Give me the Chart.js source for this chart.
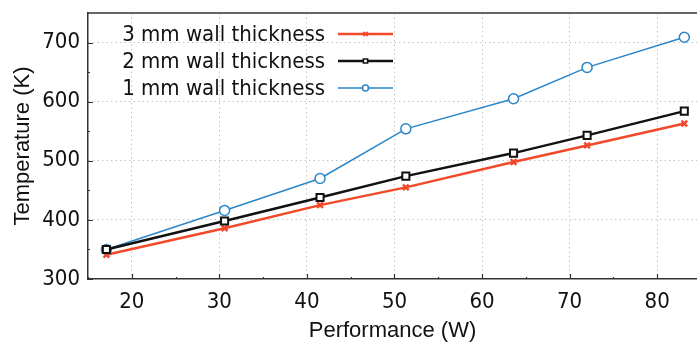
<!DOCTYPE html>
<html>
<head>
<meta charset="utf-8">
<script src="https://cdn.jsdelivr.net/npm/chart.js@4"></script>
<style>
  html, body { margin: 0; padding: 0; background: #fff; }
</style>
</head>
<body>
<canvas id="chart" width="697" height="343"></canvas>
<script>
// data
const power = [17.1, 30.6, 41.5, 51.3, 63.6, 72.0, 83.1];
const temp3mm = [341, 386, 425, 455, 498, 526, 563];
const temp2mm = [350, 398, 438, 474, 513, 543, 584];
const temp1mm = [350, 416, 470, 554, 605, 658, 709];
const seriesNames = ["3 mm wall thickness", "2 mm wall thickness", "1 mm wall thickness"];
const xTicks = [20, 30, 40, 50, 60, 70, 80];
const yTicks = [300, 400, 500, 600, 700];

const RED = "#f2492b";
const BLUE = "#2a86c8";
const BLACK = "#111111";
const TICK_FONT = "'DejaVu Sans Condensed', 'DejaVu Sans', sans-serif";

const pts = (ys) => power.map((x, i) => ({ x: x, y: ys[i] }));

const datasets = [
    {
        label: seriesNames[0],
        data: pts(temp3mm),
        borderColor: RED,
        backgroundColor: RED,
        borderWidth: 2.5,
        pointStyle: "crossRot",
        pointRadius: 4,
        pointBorderWidth: 2.5,
        order: 2,
    },
    {
        label: seriesNames[1],
        data: pts(temp2mm),
        borderColor: BLACK,
        backgroundColor: "#fff",
        borderWidth: 2.5,
        pointStyle: "rect",
        pointRadius: 5,
        pointBorderWidth: 2,
        order: 1,
    },
    {
        label: seriesNames[2],
        data: pts(temp1mm),
        borderColor: BLUE,
        backgroundColor: "#fff",
        borderWidth: 1.5,
        pointStyle: "circle",
        pointRadius: 5,
        pointBorderWidth: 1.5,
        order: 3,
    },
];

// top frame line, inner ticks and the legend at the top left
const extras = {
    id: "extras",
    afterDraw(chart) {
        const { ctx, chartArea: a, scales } = chart;
        ctx.save();
        ctx.strokeStyle = "#333";
        ctx.lineWidth = 1.5;
        ctx.beginPath();
        ctx.moveTo(a.left, a.top);
        ctx.lineTo(a.right, a.top);
        ctx.stroke();

        ctx.lineWidth = 1.2;
        ctx.beginPath();
        for (let v = 15; v <= 80; v += 5) {
            const px = Math.round(scales.x.getPixelForValue(v)) + 0.5;
            const len = v % 10 === 0 ? 5 : 2;
            ctx.moveTo(px, a.bottom);
            ctx.lineTo(px, a.bottom - len);
        }
        for (let v = 300; v < 750; v += 50) {
            const py = Math.round(scales.y.getPixelForValue(v)) + 0.5;
            const len = v % 100 === 0 ? 5 : 2;
            ctx.moveTo(a.left, py);
            ctx.lineTo(a.left + len, py);
        }
        ctx.stroke();

        // legend
        const rowY = [a.top + 21, a.top + 48, a.top + 75];
        const textRight = a.left + 237;
        const lineL = textRight + 13;
        const lineR = textRight + 68;
        ctx.font = "22px " + TICK_FONT;
        ctx.textAlign = "right";
        ctx.textBaseline = "middle";
        chart.data.datasets.forEach((ds, i) => {
            const y = rowY[i];
            ctx.fillStyle = "#111";
            ctx.fillText(ds.label, textRight, y + 1);
            ctx.strokeStyle = ds.borderColor;
            ctx.lineWidth = ds.borderWidth;
            ctx.beginPath();
            ctx.moveTo(lineL, y);
            ctx.lineTo(lineR, y);
            ctx.stroke();
            ctx.fillStyle = ds.backgroundColor;
            ctx.lineWidth = 1.5;
            Chart.helpers.drawPoint(ctx, {
                pointStyle: ds.pointStyle,
                radius: 3,
                rotation: 0,
                borderWidth: 1.5,
            }, (lineL + lineR) / 2, y);
        });
        ctx.restore();
    },
};

const config = {
    type: "line",
    data: { datasets: datasets },
    options: {
        responsive: false,
        animation: false,
        layout: { autoPadding: false, padding: { top: 13, right: 0, left: 0, bottom: 0 } },
        elements: { line: { tension: 0 } },
        scales: {
            x: {
                type: "linear",
                min: 15,
                max: 84.55,
                afterBuildTicks: (scale) => {
                    scale.ticks = xTicks.map((v) => ({ value: v }));
                },
                afterFit: (scale) => {
                    scale.height = 64;
                    scale.paddingLeft = 0;
                    scale.paddingRight = 0;
                },
                grid: {
                    color: "#c4c4c4",
                    lineWidth: 1,
                    drawTicks: false,
                },
                border: { color: "#333", width: 1.5, dash: [1.5, 3] },
                ticks: {
                    padding: 10,
                    color: "#111",
                    font: { family: TICK_FONT, size: 22 },
                },
                title: {
                    display: true,
                    text: "Performance (W)",
                    color: "#111",
                    font: { family: "'Liberation Sans', Arial, sans-serif", size: 22, lineHeight: 1 },
                    padding: { top: 0, bottom: 1 },
                },
            },
            y: {
                min: 300,
                max: 750,
                afterBuildTicks: (scale) => {
                    scale.ticks = yTicks.map((v) => ({ value: v }));
                },
                afterFit: (scale) => {
                    scale.width = 88;
                    scale.paddingTop = 0;
                    scale.paddingBottom = 0;
                },
                grid: {
                    color: (c) => (c.tick && c.tick.value === 300 ? "rgba(0,0,0,0)" : "#c4c4c4"),
                    lineWidth: 1,
                    drawTicks: false,
                },
                border: { color: "#333", width: 1.5, dash: [1.5, 3] },
                ticks: {
                    padding: 8,
                    color: "#111",
                    font: { family: TICK_FONT, size: 22 },
                },
                title: {
                    display: true,
                    text: "Temperature (K)",
                    color: "#111",
                    font: { family: "'Liberation Sans', Arial, sans-serif", size: 22, lineHeight: 1 },
                    padding: { top: 12, bottom: 0 },
                },
            },
        },
        plugins: {
            legend: { display: false },
            tooltip: { enabled: false },
        },
    },
    plugins: [extras],
};

const chart = new Chart(document.getElementById("chart"), config);
</script>
</body>
</html>
